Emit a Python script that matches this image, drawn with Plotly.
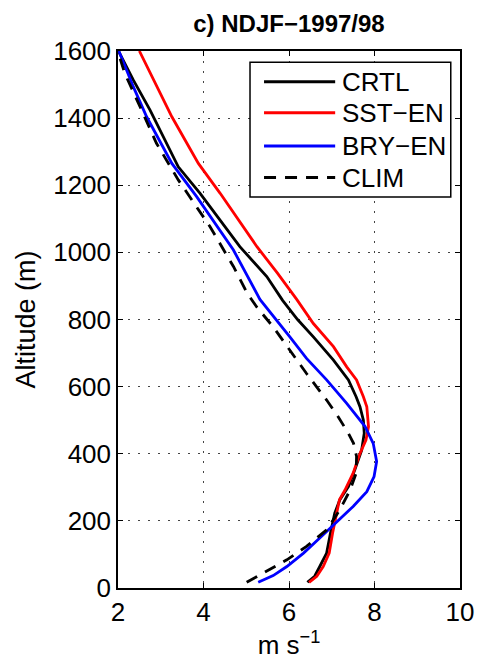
import plotly.graph_objects as go

# ---- data (wind speed m/s, altitude m) ----
series_names = ["CRTL", "SST−EN", "BRY−EN", "CLIM"]

crtl_wind = [6.43, 6.60, 6.72, 6.88, 6.97, 7.07, 7.19, 7.39, 7.54, 7.70, 7.76, 7.74, 7.66, 7.57, 7.39, 7.04, 6.57, 6.20, 5.85, 5.48, 4.85, 3.92, 3.41, 2.75, 2.36, 2.01]
crtl_alt = [17, 35, 64, 104, 164, 223, 263, 302, 352, 411, 461, 500, 540, 570, 620, 679, 748, 800, 857, 928, 1017, 1176, 1255, 1424, 1513, 1600]

sst_wind = [6.47, 6.65, 6.80, 6.94, 7.02, 7.11, 7.18, 7.31, 7.50, 7.66, 7.80, 7.86, 7.82, 7.74, 7.58, 7.35, 7.04, 6.57, 6.18, 5.73, 5.25, 4.39, 3.88, 3.26, 2.83, 2.50]
sst_alt = [17, 35, 64, 104, 164, 223, 263, 292, 342, 401, 441, 481, 540, 570, 620, 659, 719, 788, 860, 938, 1017, 1176, 1265, 1404, 1513, 1600]

bry_wind = [5.28, 5.63, 5.95, 6.34, 6.72, 7.11, 7.50, 7.82, 7.99, 8.05, 7.97, 7.78, 7.35, 6.88, 6.41, 6.02, 5.70, 5.32, 4.70, 3.84, 3.26, 2.67, 2.36, 2.05, 2.02]
bry_alt = [17, 37, 64, 104, 149, 195, 243, 287, 332, 377, 431, 481, 550, 620, 684, 748, 800, 860, 1007, 1166, 1265, 1404, 1493, 1593, 1600]

clim_wind = [5.01, 5.48, 5.95, 6.41, 6.88, 7.19, 7.43, 7.57, 7.58, 7.51, 7.39, 7.15, 6.88, 6.41, 5.95, 5.63, 5.24, 5.02, 4.70, 4.15, 3.41, 2.90, 2.48, 2.16, 2.01]
clim_alt = [17, 50, 84, 124, 173, 233, 292, 342, 392, 431, 461, 510, 560, 639, 719, 778, 838, 879, 958, 1077, 1216, 1325, 1444, 1533, 1593]

x_ticks = [2, 4, 6, 8, 10]
y_ticks = [0, 200, 400, 600, 800, 1000, 1200, 1400, 1600]

colors = ["#000000", "#ff0000", "#0000ff", "#000000"]
dashes = ["solid", "solid", "solid", "12px,9px"]

FONT = "Liberation Sans, Arial, Helvetica, sans-serif"

fig = go.Figure()
data = [(crtl_wind, crtl_alt), (sst_wind, sst_alt), (bry_wind, bry_alt), (clim_wind, clim_alt)]
for (w, a), name, c, d in zip(data, series_names, colors, dashes):
    fig.add_trace(go.Scatter(x=w, y=a, mode="lines", name=name,
                             line=dict(color=c, width=2.8, dash=d),
                             showlegend=False))

# ---- custom legend (MATLAB style) ----
shapes = [dict(type="rect", xref="paper", yref="paper", x0=0.386, x1=0.973,
               y0=0.728, y1=0.979, line=dict(color="black", width=1.5),
               fillcolor="white", layer="above")]
annotations = []
leg_y = [0.9429, 0.8852, 0.8233, 0.7643]
for name, c, d, yy in zip(series_names, colors, dashes, leg_y):
    shapes.append(dict(type="line", xref="paper", yref="paper", x0=0.427, x1=0.635,
                       y0=yy, y1=yy, line=dict(color=c, width=3, dash=d), layer="above"))
    annotations.append(dict(xref="paper", yref="paper", x=0.650, y=yy, text=name,
                            showarrow=False, xanchor="left", yanchor="middle",
                            font=dict(family=FONT, size=26, color="black")))

fig.update_layout(
    width=478, height=664,
    margin=dict(l=118, r=18, t=51, b=76, autoexpand=False),
    paper_bgcolor="white", plot_bgcolor="white",
    font=dict(family=FONT, size=26, color="black"),
    title=dict(text="<b>c) NDJF−1997/98</b>", x=0.6046, xanchor="center",
               y=0.965, yanchor="middle", font=dict(family=FONT, size=24, color="black")),
    shapes=shapes, annotations=annotations,
)
fig.update_xaxes(range=[2, 10], tickvals=x_ticks, ticktext=[str(v) for v in x_ticks],
                 showline=True, linecolor="black", linewidth=1.5, mirror="ticks",
                 ticks="inside", ticklen=5, tickcolor="black", automargin=False,
                 showgrid=True, gridcolor="#444444", griddash="2px,8px", gridwidth=1,
                 zeroline=False, tickfont=dict(size=26), ticklabeloverflow="allow",
                 title=dict(text="m s<sup>−1</sup>", font=dict(size=26), standoff=8))
fig.update_yaxes(range=[0, 1600], tickvals=y_ticks, ticktext=[str(v) for v in y_ticks],
                 showline=True, linecolor="black", linewidth=1.5, mirror="ticks",
                 ticks="inside", ticklen=5, tickcolor="black", automargin=False,
                 showgrid=True, gridcolor="#444444", griddash="2px,8px", gridwidth=1,
                 zeroline=False, tickfont=dict(size=26),
                 title=dict(text="Altitude (m)", font=dict(size=27), standoff=10))

fig.write_html("out.html", config={"displayModeBar": False},
               post_script="document.body.style.margin='0px';document.body.style.padding='0px';")
